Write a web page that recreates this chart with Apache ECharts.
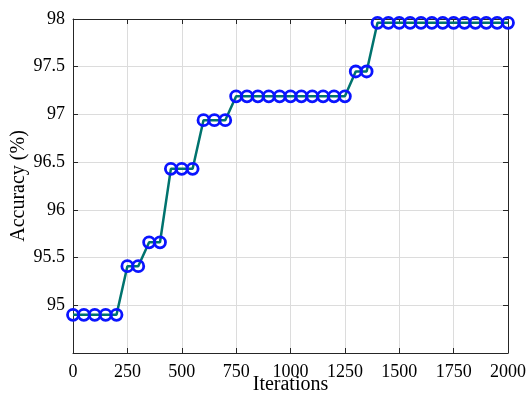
<!DOCTYPE html>
<html>
<head>
<meta charset="utf-8">
<script src="https://cdn.jsdelivr.net/npm/echarts@6/dist/echarts.min.js"></script>
<style>
  html, body { margin: 0; padding: 0; background: #fff; }
  #chart { width: 527px; height: 396px; }
</style>
</head>
<body>
<div id="chart"></div>
<script>
// iterations sampled every 50
const iterations = [
  0, 50, 100, 150, 200, 250, 300, 350, 400, 450, 500, 550, 600, 650, 700,
  750, 800, 850, 900, 950, 1000, 1050, 1100, 1150, 1200, 1250, 1300, 1350,
  1400, 1450, 1500, 1550, 1600, 1650, 1700, 1750, 1800, 1850, 1900, 1950, 2000
];
const accuracy = [
  94.9, 94.9, 94.9, 94.9, 94.9, 95.41, 95.41, 95.66, 95.66, 96.43, 96.43, 96.43,
  96.94, 96.94, 96.94,
  97.19, 97.19, 97.19, 97.19, 97.19, 97.19, 97.19, 97.19, 97.19, 97.19, 97.19,
  97.45, 97.45,
  97.96, 97.96, 97.96, 97.96, 97.96, 97.96, 97.96, 97.96, 97.96, 97.96, 97.96, 97.96, 97.96
];
const xTicks = { min: 0, max: 2000, step: 250 };
const yTicks = { min: 94.5, max: 98, step: 0.5 };

const font = "'Liberation Serif', 'Times New Roman', serif";
const axisColor = '#262626';

const chart = echarts.init(document.getElementById('chart'));

const baseAxis = {
  type: 'value',
  nameMoveOverlap: false,
  axisLine: { show: true, onZero: false, lineStyle: { color: axisColor, width: 1 } },
  axisTick: { show: true, inside: true, length: 5, lineStyle: { color: axisColor } },
  splitLine: { show: false }
};

chart.setOption({
  animation: false,
  grid: { left: 73, right: 19, top: 19, bottom: 43, containLabel: false, outerBoundsMode: 'none' },
  xAxis: [
    Object.assign({}, baseAxis, {
      min: xTicks.min, max: xTicks.max, interval: xTicks.step,
      name: 'Iterations', nameLocation: 'middle', nameGap: 22,
      nameTextStyle: { fontFamily: font, fontSize: 20, color: '#000' },
      axisLabel: { fontFamily: font, fontSize: 18, color: '#000', margin: 10, formatter: v => String(v) },
      splitLine: { show: true, lineStyle: { color: '#dcdcdc', width: 1 } }
    }),
    Object.assign({}, baseAxis, {
      position: 'top',
      min: xTicks.min, max: xTicks.max, interval: xTicks.step,
      axisLabel: { show: false }
    })
  ],
  yAxis: [
    Object.assign({}, baseAxis, {
      min: yTicks.min, max: yTicks.max, interval: yTicks.step,
      name: 'Accuracy (%)', nameLocation: 'middle', nameGap: 44,
      nameTextStyle: { fontFamily: font, fontSize: 20, color: '#000' },
      axisLabel: {
        fontFamily: font, fontSize: 18, color: '#000', margin: 8,
        formatter: v => (v <= yTicks.min ? '' : String(v))
      },
      splitLine: { show: true, lineStyle: { color: '#dcdcdc', width: 1 } }
    }),
    Object.assign({}, baseAxis, {
      position: 'right',
      min: yTicks.min, max: yTicks.max, interval: yTicks.step,
      axisLabel: { show: false }
    })
  ],
  series: [{
    type: 'line',
    data: iterations.map((x, i) => [x, accuracy[i]]),
    lineStyle: { color: '#00736e', width: 2.5 },
    symbol: 'circle',
    symbolSize: 11,
    itemStyle: { color: 'rgba(0,0,0,0)', borderColor: '#0a14ff', borderWidth: 2.8 },
    clip: false
  }]
});
</script>
</body>
</html>
